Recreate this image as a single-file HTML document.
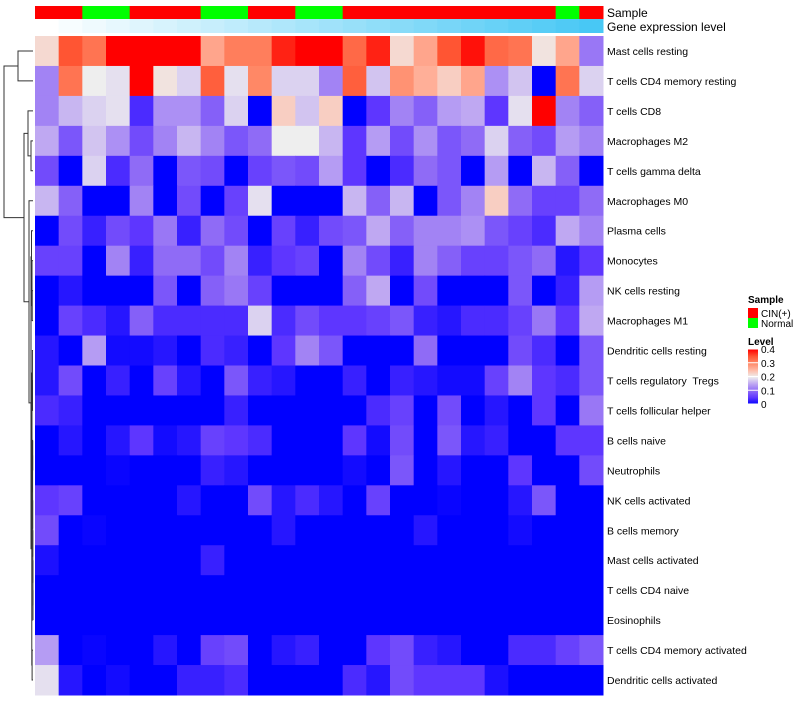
<!DOCTYPE html>
<html><head><meta charset="utf-8">
<style>
body{margin:0;background:#fff;}
svg text{font-family:"Liberation Sans",sans-serif;fill:#000;white-space:pre;}
</style></head><body>
<svg id="chart" width="800" height="700" xmlns="http://www.w3.org/2000/svg"></svg>
<script>
const rowNames=["Mast cells resting","T cells CD4 memory resting","T cells CD8","Macrophages M2","T cells gamma delta","Macrophages M0","Plasma cells","Monocytes","NK cells resting","Macrophages M1","Dendritic cells resting","T cells regulatory  Tregs","T cells follicular helper","B cells naive","Neutrophils","NK cells activated","B cells memory","Mast cells activated","T cells CD4 naive","Eosinophils","T cells CD4 memory activated","Dendritic cells activated"];
const sampleGroups=["CIN(+)","CIN(+)","Normal","Normal","CIN(+)","CIN(+)","CIN(+)","Normal","Normal","CIN(+)","CIN(+)","Normal","Normal","CIN(+)","CIN(+)","CIN(+)","CIN(+)","CIN(+)","CIN(+)","CIN(+)","CIN(+)","CIN(+)","Normal","CIN(+)"];
const geneLevel=[0,1,2,3,4,5,6,7,8,9,10,11,12,13,14,15,16,17,18,19,20,21,22,23];
const legendTicks=[0,0.1,0.2,0.3,0.4];
const r0=[0.22,0.35,0.32,0.4,0.4,0.4,0.4,0.27,0.31,0.31,0.38,0.4,0.4,0.33,0.38,0.22,0.27,0.35,0.39,0.33,0.32,0.21,0.27,0.11];
const r1=[0.12,0.32,0.2,0.19,0.4,0.21,0.18,0.34,0.19,0.3,0.18,0.18,0.12,0.34,0.17,0.29,0.26,0.23,0.27,0.13,0.17,0,0.32,0.18];
const r2=[0.12,0.16,0.18,0.19,0.04,0.13,0.13,0.09,0.18,0,0.23,0.17,0.23,0,0.05,0.12,0.09,0.14,0.15,0.05,0.19,0.4,0.12,0.09];
const r3=[0.15,0.08,0.17,0.13,0.07,0.12,0.16,0.12,0.08,0.1,0.2,0.2,0.16,0.05,0.14,0.07,0.13,0.08,0.1,0.18,0.09,0.07,0.14,0.12];
const r4=[0.07,0,0.18,0.04,0.1,0,0.08,0.07,0,0.06,0.08,0.07,0.14,0.05,0,0.04,0.1,0.08,0,0.14,0,0.16,0.09,0];
const r5=[0.16,0.09,0,0,0.12,0,0.07,0,0.06,0.19,0,0,0,0.16,0.09,0.16,0,0.08,0.12,0.23,0.1,0.06,0.06,0.1];
const r6=[0,0.07,0.03,0.07,0.05,0.11,0.03,0.1,0.07,0,0.06,0.03,0.07,0.08,0.15,0.09,0.12,0.12,0.13,0.08,0.06,0.04,0.15,0.12];
const r7=[0.06,0.06,0,0.12,0.03,0.1,0.1,0.07,0.12,0.03,0.05,0.06,0,0.12,0.07,0.03,0.12,0.09,0.06,0.06,0.08,0.1,0.02,0.05];
const r8=[0,0.02,0,0,0,0.08,0,0.09,0.11,0.06,0,0,0,0.09,0.15,0,0.07,0,0,0,0.08,0,0.03,0.14];
const r9=[0,0.06,0.04,0.02,0.09,0.04,0.04,0.04,0.04,0.18,0.04,0.07,0.05,0.05,0.06,0.08,0.03,0.02,0.04,0.04,0.06,0.11,0.05,0.15];
const r10=[0.02,0,0.14,0.01,0.01,0.02,0,0.04,0.03,0,0.05,0.12,0.08,0,0,0,0.1,0,0,0,0.07,0.04,0,0.08];
const r11=[0.02,0.07,0,0.03,0,0.06,0.02,0,0.08,0.03,0.02,0,0,0.03,0,0.03,0.02,0.01,0.01,0.06,0.12,0.05,0.04,0.08];
const r12=[0.04,0.03,0,0,0,0,0,0,0.03,0,0,0,0,0,0.04,0.06,0,0.07,0,0.02,0,0.05,0,0.11];
const r13=[0,0.02,0,0.02,0.05,0.01,0.02,0.06,0.05,0.04,0,0,0,0.05,0.01,0.07,0,0.08,0.02,0.03,0,0,0.05,0.05];
const r14=[0,0,0,0.005,0,0,0,0.03,0.02,0,0,0,0,0.01,0,0.08,0,0.02,0,0,0.05,0,0,0.07];
const r15=[0.05,0.06,0,0,0,0,0.02,0,0,0.07,0.02,0.04,0.02,0,0.06,0,0,0.005,0,0,0.02,0.08,0,0];
const r16=[0.07,0,0.005,0,0,0,0,0,0,0,0.02,0,0,0,0,0,0.02,0,0,0,0.01,0,0,0];
const r17=[0.015,0,0,0,0,0,0,0.03,0,0,0,0,0,0,0,0,0,0,0,0,0,0,0,0];
const r18=[0,0,0,0,0,0,0,0,0,0,0,0,0,0,0,0,0,0,0,0,0,0,0,0];
const r19=[0,0,0,0,0,0,0,0,0,0,0,0,0,0,0,0,0,0,0,0,0,0,0,0];
const r20=[0.14,0,0.005,0,0,0.02,0,0.06,0.07,0,0.02,0.03,0,0,0.05,0.07,0.03,0.02,0,0,0.04,0.04,0.06,0.08];
const r21=[0.19,0.02,0,0.01,0,0,0.03,0.03,0.04,0,0,0,0,0.04,0.02,0.07,0.05,0.05,0.05,0.015,0,0,0,0];
const values=[r0,r1,r2,r3,r4,r5,r6,r7,r8,r9,r10,r11,r12,r13,r14,r15,r16,r17,r18,r19,r20,r21];

const svg=document.getElementById('chart');
const NS="http://www.w3.org/2000/svg";
function mk(tag,attrs){const e=document.createElementNS(NS,tag);for(const k in attrs)e.setAttribute(k,attrs[k]);svg.appendChild(e);return e;}
const X0=35,X1=603,Y0=36,Y1=695;
const nC=sampleGroups.length,nR=rowNames.length;
const cw=(X1-X0)/nC,rh=(Y1-Y0)/nR;
const xAt=i=>X0+i*cw, yAt=j=>Y0+j*rh;
const stops=[[0,[0,0,255]],[0.05,[94,54,255]],[0.1,[143,107,246]],[0.15,[191,168,242]],[0.2,[238,238,238]],[0.25,[255,185,165]],[0.3,[255,136,102]],[0.35,[255,85,51]],[0.4,[255,0,0]]];
function col(v){v=Math.max(0,Math.min(0.4,v));for(let k=1;k<stops.length;k++){if(v<=stops[k][0]){const a=stops[k-1],b=stops[k],t=(v-a[0])/(b[0]-a[0]);const c=a[1].map((x,i)=>Math.round(x+(b[1][i]-x)*t));return `rgb(${c})`;}}return 'rgb(255,0,0)';}
sampleGroups.forEach((g,i)=>{const r=mk('rect',{x:xAt(i),y:6,width:cw+0.5,height:13,fill:g==="Normal"?"#00FF00":"#FF0000"});

});
const gmax=Math.max(...geneLevel);
geneLevel.forEach((g,i)=>{const t=g/gmax;const c=[255+(72-255)*t,255+(200-255)*t,255+(245-255)*t].map(Math.round);
const r=mk('rect',{x:xAt(i),y:19,width:cw+0.5,height:14,fill:`rgb(${c})`});

});
let t=mk('text',{x:607,y:17,'font-size':12});t.textContent="Sample";

t=mk('text',{x:607,y:31,'font-size':12});t.textContent="Gene expression level";

values.forEach((row,j)=>row.forEach((v,i)=>{const r=mk('rect',{x:xAt(i),y:yAt(j),width:cw+0.5,height:rh+0.5,fill:col(v)});

}));
rowNames.forEach((n,j)=>{const e=mk('text',{x:607,y:yAt(j)+rh/2+4,'font-size':10.5});e.textContent=n;

});
const tree={h:29,l:{h:15,l:0,r:1},r:{h:9,l:{h:5,l:2,r:{h:2,l:3,r:4}},r:{h:4,l:5,r:{h:2,l:{h:1.5,l:6,r:{h:1,l:7,r:{h:0.8,l:8,r:9}}},r:{h:1.2,l:{h:1,l:{h:0.6,l:10,r:{h:0.5,l:11,r:12}},r:{h:0.4,l:{h:0.3,l:13,r:14},r:{h:0.3,l:15,r:{h:0.2,l:16,r:{h:0.1,l:17,r:{h:0.05,l:18,r:19}}}}}},r:{h:0.9,l:20,r:21}}}}}};
const dx=h=>33-h;
function draw(n){if(typeof n==="number")return {y:yAt(n)+rh/2,x:33};
const a=draw(n.l),b=draw(n.r),x=dx(n.h);
const p=mk('path',{d:`M${a.x},${a.y}H${x}V${b.y}H${b.x}`,fill:'none',stroke:'#333','stroke-width':1});


return {x:x,y:(a.y+b.y)/2};}
draw(tree);
t=mk('text',{x:748,y:303,'font-size':10,'font-weight':'bold'});t.textContent="Sample";

[["CIN(+)","#FF0000"],["Normal","#00FF00"]].forEach((d,k)=>{const r=mk('rect',{x:748,y:308+k*10,width:10,height:10,fill:d[1]});

const e=mk('text',{x:761,y:317+k*10,'font-size':10});e.textContent=d[0];
});
t=mk('text',{x:748,y:345,'font-size':10,'font-weight':'bold'});t.textContent="Level";

const LY0=349,LY1=404;
for(let k=0;k<55;k++){const v=0.4*(1-k/55);const r=mk('rect',{x:748,y:LY0+k,width:10,height:1.2,fill:col(v)});
}
legendTicks.forEach(v=>{const y=LY1-(v/0.4)*(LY1-LY0);
const l=mk('line',{x1:748,x2:758,y1:y,y2:y,stroke:'#fff','stroke-width':1});

const e=mk('text',{x:761,y:y+4,'font-size':10});e.textContent=String(v);
});
</script>
</body></html>
